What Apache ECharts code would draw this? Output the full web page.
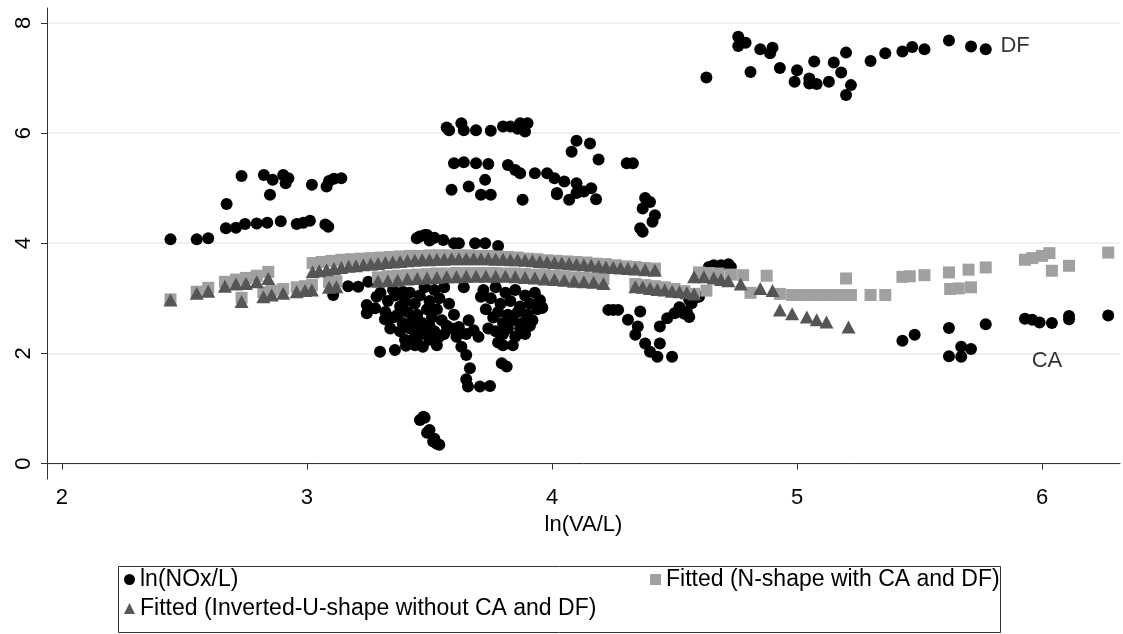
<!DOCTYPE html>
<html>
<head>
<meta charset="utf-8">
<script src="https://cdn.jsdelivr.net/npm/echarts@6/dist/echarts.min.js"></script>
<style>
  html, body { margin: 0; padding: 0; background: #ffffff; }
  #chart { width: 1123px; height: 634px; }
</style>
</head>
<body>
<div id="chart"></div>
<script>
// Observed emissions intensity, ln(NOx/L) against ln(VA/L)
const noxLeft = [
  [2.443,4.07],[2.55,4.07],[2.597,4.09],[2.669,4.27],[2.672,4.71],[2.71,4.28],[2.747,4.35],
  [2.733,5.22],[2.795,4.36],[2.838,4.37],[2.824,5.24],[2.86,5.15],[2.849,4.88],[2.893,4.40],
  [2.903,5.24],[2.924,5.18],[2.913,5.09],[2.958,4.35],[2.985,4.37],[3.012,4.41],[3.02,5.06],
  [3.08,5.03],[3.09,5.13],[3.11,5.17],[3.14,5.18],[3.087,4.30],[3.075,4.34]
];
const noxCentre = [
  [3.107,3.06],[3.168,3.22],[3.209,3.21],[3.25,3.30],[3.284,3.03],[3.244,2.88],[3.244,2.73],
  [3.278,2.82],[3.318,2.62],[3.298,2.03],[3.359,2.06],[3.404,2.14],[3.441,2.15],[3.473,2.12],
  [3.351,3.15],[3.392,3.12],
  [3.448,4.09],[3.48,4.15],[3.49,4.15],[3.46,4.12],[3.50,4.05],[3.52,4.10],[3.556,4.06],
  [3.60,4.00],[3.62,4.00],[3.686,4.00],[3.727,4.00],[3.78,3.95],
  [3.461,0.79],[3.48,0.83],[3.49,0.56],[3.475,0.85],[3.50,0.61],[3.515,0.40],[3.54,0.34],
  [3.53,0.36],[3.52,0.45],
  [3.30,3.10],[3.33,2.95],[3.36,3.05],[3.38,2.85],[3.40,2.95],[3.42,3.10],[3.44,2.90],
  [3.46,3.05],[3.48,3.20],[3.50,2.95],[3.52,3.15],[3.54,3.00],[3.56,3.20],
  [3.32,2.75],[3.35,2.65],[3.37,2.70],[3.39,2.55],[3.41,2.75],[3.43,2.60],[3.45,2.70],
  [3.47,2.55],[3.49,2.80],[3.51,2.65],[3.53,2.80],[3.55,2.60],[3.58,2.90],
  [3.34,2.45],[3.38,2.40],[3.42,2.45],[3.44,2.30],[3.46,2.45],[3.48,2.35],[3.50,2.50],
  [3.52,2.40],[3.54,2.30],[3.57,2.50],[3.60,2.70],
  [3.40,2.25],[3.45,2.20],[3.50,2.25],[3.53,2.15],[3.56,2.35],[3.59,2.45],[3.61,2.30],
  [3.72,3.15],[3.75,3.00],[3.77,3.20],[3.79,2.90],[3.81,3.10],[3.83,2.95],[3.85,3.15],
  [3.87,2.85],[3.89,3.05],[3.91,2.90],[3.93,3.10],[3.95,2.95],
  [3.73,2.80],[3.76,2.65],[3.78,2.75],[3.80,2.55],[3.82,2.70],[3.84,2.60],[3.86,2.75],
  [3.88,2.55],[3.90,2.70],[3.92,2.60],[3.94,2.80],[3.96,2.83],
  [3.74,2.45],[3.77,2.40],[3.80,2.35],[3.82,2.45],[3.85,2.30],[3.87,2.45],[3.89,2.35],
  [3.91,2.50],[3.78,2.20],[3.84,2.15],[3.80,2.15],
  [3.62,2.48],[3.65,2.35],[3.68,2.42],[3.70,2.30],[3.66,2.60],[3.64,3.20],[3.71,3.03],
  [3.63,2.12],[3.65,1.97],[3.665,1.73],[3.65,1.53],[3.657,1.40],[3.706,1.40],[3.747,1.41],
  [3.795,1.82],[3.815,1.76]
];
const noxUpper = [
  [3.57,6.10],[3.58,6.05],[3.63,6.18],[3.64,6.05],[3.69,6.05],[3.75,6.04],[3.80,6.12],
  [3.83,6.12],[3.87,6.18],[3.90,6.18],[3.89,6.03],[3.86,6.08],
  [3.60,5.45],[3.64,5.47],[3.69,5.45],[3.74,5.44],[3.727,5.15],[3.59,4.97],[3.66,5.03],
  [3.71,4.88],[3.75,4.88],[3.88,4.79],[3.82,5.42],[3.85,5.33],[3.87,5.27],[3.93,5.27],
  [3.98,5.27],[4.01,5.18],[4.02,4.91],[4.05,5.12],[4.10,5.09],[4.02,4.89],[4.07,4.79],
  [4.10,4.91],[4.13,4.94],[4.16,5.00],[4.18,4.80],[4.10,5.86],[4.155,5.81],[4.08,5.66],
  [4.19,5.52],[4.305,5.45],[4.33,5.45],[4.38,4.82],[4.40,4.75],[4.37,4.63],[4.42,4.51],
  [4.41,4.39],[4.37,4.21],[4.36,4.27]
];
const noxRight = [
  [3.95,2.97],[3.96,2.83],[4.23,2.79],[4.25,2.79],[4.27,2.79],[4.31,2.61],[4.36,2.76],
  [4.35,2.49],[4.34,2.34],[4.38,2.18],[4.40,2.03],[4.43,1.94],[4.49,1.94],[4.44,2.18],
  [4.44,2.49],[4.47,2.64],[4.50,2.73],[4.52,2.76],[4.55,2.76],[4.57,2.91],[4.59,3.03],
  [4.52,2.84],[4.54,2.72],[4.56,2.66],[4.60,3.03],[4.56,2.97],
  [4.64,3.57],[4.66,3.60],[4.69,3.60],[4.72,3.62],[4.73,3.57]
];
// Outlying provinces, labelled on the plot
const noxDF = [
  [4.63,7.01],[4.76,7.75],[4.76,7.58],[4.79,7.64],[4.81,7.11],[4.85,7.52],[4.89,7.45],
  [4.90,7.55],[4.93,7.18],[4.99,6.93],[5.00,7.14],[5.05,6.99],[5.05,6.90],[5.07,7.30],
  [5.08,6.89],[5.13,6.93],[5.15,7.28],[5.18,7.10],[5.22,6.87],[5.20,6.69],[5.20,7.46],
  [5.30,7.31],[5.36,7.45],[5.43,7.48],[5.47,7.56],[5.52,7.52],[5.62,7.68],[5.71,7.57],
  [5.77,7.52]
];
const noxCA = [
  [5.43,2.23],[5.48,2.34],[5.62,2.46],[5.62,1.95],[5.67,2.12],[5.67,1.94],[5.71,2.08],
  [5.77,2.53],[5.93,2.63],[5.96,2.61],[5.99,2.56],[6.04,2.55],[6.11,2.68],[6.11,2.62],
  [6.27,2.69]
];

// Fitted values, inverted-U specification (without CA and DF)
const fitInvU = [
  [2.443,2.97],[2.55,3.09],[2.597,3.13],[2.665,3.22],[2.71,3.26],[2.733,2.94],[2.751,3.27],
  [2.795,3.30],[2.822,3.03],[2.842,3.36],[2.856,3.06],[2.903,3.09],[2.958,3.12],[2.992,3.14],
  [3.02,3.15],[3.023,3.48],
  [3.05,3.50],[3.08,3.52],[3.11,3.54],[3.14,3.56],[3.17,3.58],[3.20,3.59],[3.23,3.61],
  [3.26,3.62],[3.29,3.63],[3.32,3.65],[3.35,3.66],[3.38,3.67],[3.41,3.68],[3.44,3.69],
  [3.47,3.70],[3.50,3.70],[3.53,3.71],[3.56,3.71],[3.59,3.72],[3.62,3.72],[3.65,3.72],
  [3.68,3.72],[3.71,3.72],[3.74,3.72],[3.77,3.71],[3.80,3.71],[3.83,3.70],[3.86,3.70],
  [3.89,3.69],[3.92,3.68],[3.95,3.67],[3.98,3.66],[4.01,3.65],[4.04,3.64],[4.07,3.63],
  [4.10,3.62],[4.13,3.61],[4.16,3.60],[4.19,3.58],[4.22,3.57],[4.25,3.56],[4.28,3.55],
  [4.31,3.54],[4.34,3.53],[4.38,3.52],[4.42,3.51],
  [3.09,3.20],[3.12,3.21],[3.29,3.31],[3.33,3.32],[3.37,3.33],[3.41,3.35],[3.45,3.36],
  [3.49,3.37],[3.53,3.38],[3.57,3.39],[3.61,3.39],[3.65,3.40],[3.69,3.40],[3.73,3.40],
  [3.77,3.40],[3.81,3.40],[3.85,3.39],[3.89,3.38],[3.93,3.37],[3.97,3.35],[4.01,3.34],
  [4.05,3.33],[4.09,3.31],[4.13,3.30],[4.17,3.29],[4.21,3.27],
  [4.34,3.21],[4.37,3.20],[4.40,3.18],[4.43,3.16],[4.46,3.15],[4.49,3.13],[4.52,3.12],
  [4.55,3.10],[4.58,3.08],
  [4.58,3.39],[4.62,3.39],[4.66,3.37],[4.69,3.34],[4.72,3.32],[4.77,3.26],[4.85,3.18],
  [4.90,3.14],[4.93,2.79],[4.98,2.72],[5.04,2.66],[5.08,2.61],[5.12,2.57],[5.21,2.48]
];

// Fitted values, N-shape specification (with CA and DF)
const fitNShape = [
  [2.443,2.98],[2.55,3.12],[2.597,3.19],[2.665,3.30],[2.71,3.34],[2.733,3.01],[2.751,3.37],
  [2.795,3.41],[2.822,3.11],[2.842,3.48],[2.856,3.14],[2.903,3.17],[2.958,3.20],[2.992,3.22],
  [3.02,3.24],[3.023,3.64],
  [3.06,3.66],[3.10,3.68],[3.14,3.70],[3.18,3.71],[3.22,3.72],[3.26,3.73],[3.30,3.74],
  [3.34,3.75],[3.38,3.76],[3.42,3.77],[3.46,3.77],[3.50,3.78],[3.54,3.78],[3.58,3.78],
  [3.62,3.78],[3.66,3.78],[3.70,3.77],[3.74,3.77],[3.78,3.76],[3.82,3.75],[3.86,3.74],
  [3.90,3.72],[3.94,3.71],[3.98,3.69],[4.02,3.68],[4.06,3.67],[4.10,3.66],[4.14,3.65],
  [4.18,3.63],[4.22,3.62],[4.26,3.60],[4.30,3.58],[4.34,3.57],[4.38,3.55],[4.42,3.54],
  [3.09,3.30],[3.12,3.31],[3.29,3.38],[3.33,3.40],[3.37,3.41],[3.41,3.42],[3.45,3.43],
  [3.49,3.44],[3.53,3.45],[3.57,3.45],[3.61,3.46],[3.65,3.46],[3.69,3.46],[3.73,3.46],
  [3.77,3.46],[3.81,3.45],[3.85,3.45],[3.89,3.44],[3.93,3.43],[3.97,3.42],[4.01,3.41],
  [4.05,3.40],[4.09,3.38],[4.13,3.37],[4.17,3.36],[4.21,3.35],
  [4.34,3.26],[4.38,3.24],[4.42,3.22],[4.46,3.20],[4.50,3.17],[4.54,3.13],[4.58,3.08],
  [4.60,3.47],[4.64,3.46],[4.68,3.45],[4.73,3.43],[4.78,3.42],[4.876,3.41],[4.63,3.14],
  [4.81,3.10],[4.93,3.08],[4.98,3.06],[5.02,3.06],[5.06,3.06],[5.10,3.06],[5.14,3.06],
  [5.18,3.06],[5.22,3.06],[5.20,3.36],[5.30,3.06],[5.36,3.06],[5.43,3.39],[5.46,3.40],
  [5.52,3.42],[5.62,3.47],[5.625,3.17],[5.66,3.18],[5.71,3.20],[5.70,3.52],[5.77,3.56],
  [5.93,3.70],[5.96,3.73],[6.00,3.77],[6.03,3.82],[6.04,3.50],[6.11,3.59],[6.27,3.83]
];

const xTicks = [2, 3, 4, 5, 6];
const yTicks = [0, 2, 4, 6, 8];
const groupLabels = [
  { name: 'DF', at: [5.83, 7.58], align: 'right' },
  { name: 'CA', at: [6.02, 1.87], align: 'inside' }
];

const seriesNames = {
  obs: 'ln(NOx/L)',
  nShape: 'Fitted (N-shape with CA and DF)',
  invU: 'Fitted (Inverted-U-shape without CA and DF)'
};

const FONT = 'Liberation Sans, Arial, Helvetica, sans-serif';
const chart = echarts.init(document.getElementById('chart'), null, { renderer: 'canvas' });

const allObs = [].concat(noxLeft, noxCentre, noxUpper, noxRight, noxDF, noxCA);

const legendCommon = {
  orient: 'horizontal',
  itemWidth: 11,
  itemHeight: 11,
  itemGap: 0,
  padding: 0,
  selectedMode: false,
  textStyle: { fontFamily: FONT, fontSize: 23, color: '#000' }
};

chart.setOption({
  animation: false,
  backgroundColor: '#ffffff',
  textStyle: { fontFamily: FONT },
  grid: { left: 47, right: 3, top: 8, height: 471, containLabel: false },
  xAxis: {
    type: 'value',
    min: 1.939,
    max: 6.318,
    name: 'ln(VA/L)',
    nameLocation: 'middle',
    nameGap: 31,
    nameTextStyle: { fontFamily: FONT, fontSize: 22, color: '#000' },
    axisLine: { show: true, lineStyle: { color: '#333', width: 1 } },
    axisTick: { show: true, customValues: xTicks, length: 6, lineStyle: { color: '#333' } },
    axisLabel: { customValues: xTicks, fontFamily: FONT, fontSize: 22, color: '#000', margin: 8 },
    splitLine: { show: false }
  },
  yAxis: {
    type: 'value',
    min: -0.28,
    max: 8.27,
    axisLine: { show: true, lineStyle: { color: '#333', width: 1 } },
    axisTick: { show: true, customValues: yTicks, length: 6, lineStyle: { color: '#333' } },
    axisLabel: { customValues: yTicks, rotate: 90, fontFamily: FONT, fontSize: 22, color: '#000', margin: 12 },
    splitLine: { show: true, lineStyle: { color: '#eaf1f2', width: 2 } }
  },
  legend: [
    Object.assign({}, legendCommon, { left: 124, top: 568, data: [seriesNames.obs] }),
    Object.assign({}, legendCommon, { left: 650, top: 568, data: [seriesNames.nShape] }),
    Object.assign({}, legendCommon, { left: 124, top: 597, data: [seriesNames.invU] })
  ],
  graphic: [{
    type: 'rect',
    shape: { x: 118.5, y: 566.5, width: 882, height: 66 },
    style: { fill: 'none', stroke: '#333', lineWidth: 1 },
    silent: true
  }],
  series: [
    {
      name: seriesNames.obs,
      type: 'scatter',
      symbol: 'circle',
      symbolSize: 12,
      itemStyle: { color: '#000000', opacity: 1 },
      data: allObs,
      z: 2
    },
    {
      name: seriesNames.nShape,
      type: 'scatter',
      symbol: 'rect',
      symbolSize: 12,
      itemStyle: { color: '#a0a0a0', opacity: 1 },
      data: fitNShape,
      z: 3
    },
    {
      name: seriesNames.invU,
      type: 'scatter',
      symbol: 'triangle',
      symbolSize: [14, 13],
      itemStyle: { color: '#555555', opacity: 1 },
      data: fitInvU,
      z: 4
    },
    {
      name: 'group labels',
      type: 'scatter',
      silent: true,
      symbolSize: 0,
      data: groupLabels.map(g => ({
        value: g.at,
        label: {
          show: true,
          formatter: g.name,
          position: g.align,
          distance: 0,
          fontFamily: FONT,
          fontSize: 22,
          color: '#000'
        }
      })),
      z: 5
    }
  ]
});
</script>
</body>
</html>
